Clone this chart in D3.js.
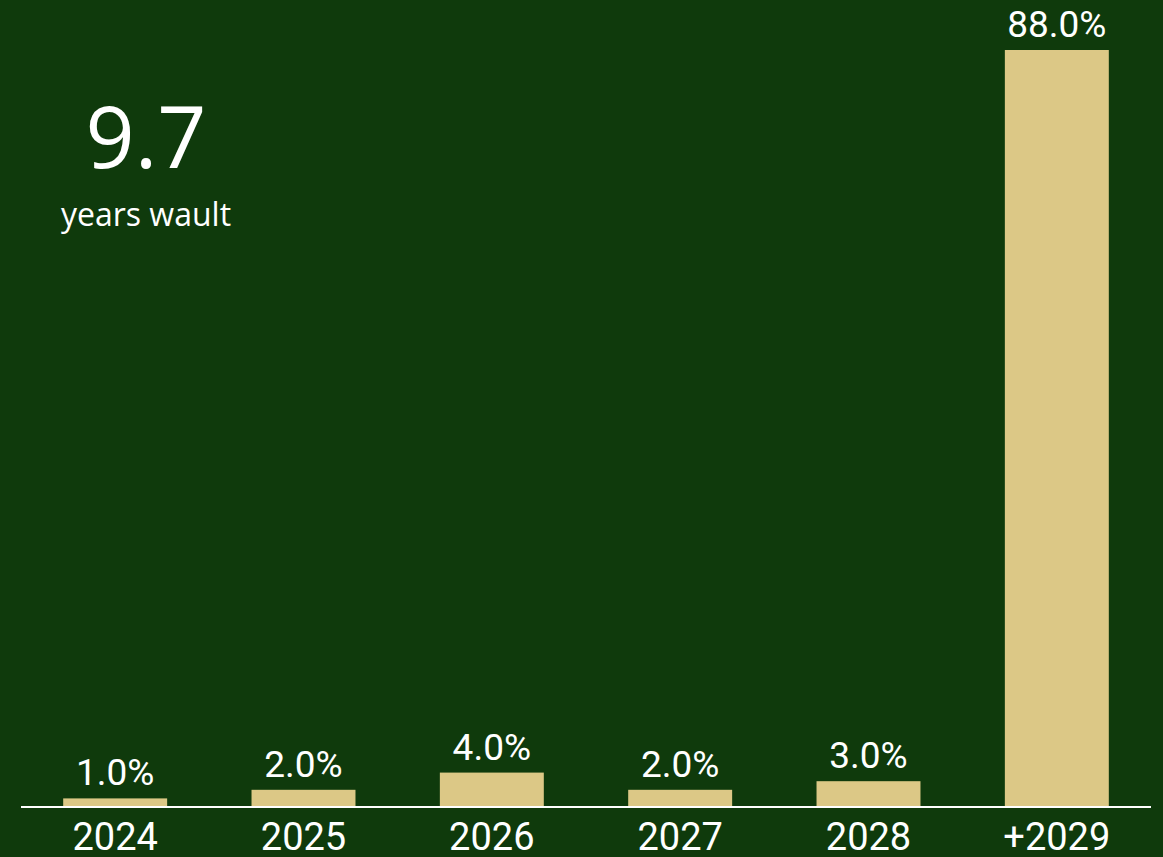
<!DOCTYPE html>
<html>
<head>
<meta charset="utf-8">
<script src="https://cdn.jsdelivr.net/npm/d3@7"></script>
<style>
  html, body { margin: 0; padding: 0; background: #0f3a0c; }
</style>
</head>
<body>
<script>
const years = ["2024", "2025", "2026", "2027", "2028", "+2029"];
const shares = [1.0, 2.0, 4.0, 2.0, 3.0, 88.0];
const waultValue = "9.7";
const waultLabel = "years wault";

const width = 1163, height = 857;
const baseY = 807;

const svg = d3.select("body").append("svg")
  .attr("width", width)
  .attr("height", height);

svg.append("rect")
  .attr("width", width)
  .attr("height", height)
  .attr("fill", "#0f3a0c");

const x = d3.scaleBand()
  .domain(years)
  .range([21, 1151])
  .paddingInner(0.448)
  .paddingOuter(0.224);

const y = d3.scaleLinear()
  .domain([0, 88])
  .range([baseY, 50]);

const data = years.map((d, i) => ({ year: d, value: shares[i] }));

// bars
svg.selectAll("rect.bar")
  .data(data)
  .enter()
  .append("rect")
  .attr("class", "bar")
  .attr("x", d => x(d.year))
  .attr("y", d => y(d.value))
  .attr("width", x.bandwidth())
  .attr("height", d => baseY - y(d.value))
  .attr("fill", "#dcc886");

// value labels
svg.selectAll("text.val")
  .data(data)
  .enter()
  .append("text")
  .attr("class", "val")
  .attr("x", d => x(d.year) + x.bandwidth() / 2)
  .attr("y", d => y(d.value) - 13)
  .attr("text-anchor", "middle")
  .attr("fill", "#ffffff")
  .style("font-family", "Roboto")
  .style("font-size", "37px")
  .text(d => d.value.toFixed(1) + "%");

// x axis
const axis = svg.append("g")
  .attr("transform", `translate(0,${baseY})`)
  .call(d3.axisBottom(x).tickSize(0).tickPadding(16));
axis.select(".domain")
  .attr("stroke", "#ffffff")
  .attr("stroke-width", 2)
  .attr("d", "M21,0H1151");
axis.selectAll("text")
  .attr("fill", "#ffffff")
  .attr("dy", "0.71em")
  .style("font-family", "Roboto")
  .style("font-size", "38px");

// wault callout
svg.append("text")
  .attr("x", 146)
  .attr("y", 168)
  .attr("text-anchor", "middle")
  .attr("fill", "#ffffff")
  .style("font-family", "Open Sans")
  .style("font-size", "86px")
  .text(waultValue);

svg.append("text")
  .attr("x", 146)
  .attr("y", 226)
  .attr("text-anchor", "middle")
  .attr("fill", "#ffffff")
  .style("font-family", "Open Sans")
  .style("font-size", "32px")
  .text(waultLabel);
</script>
</body>
</html>
